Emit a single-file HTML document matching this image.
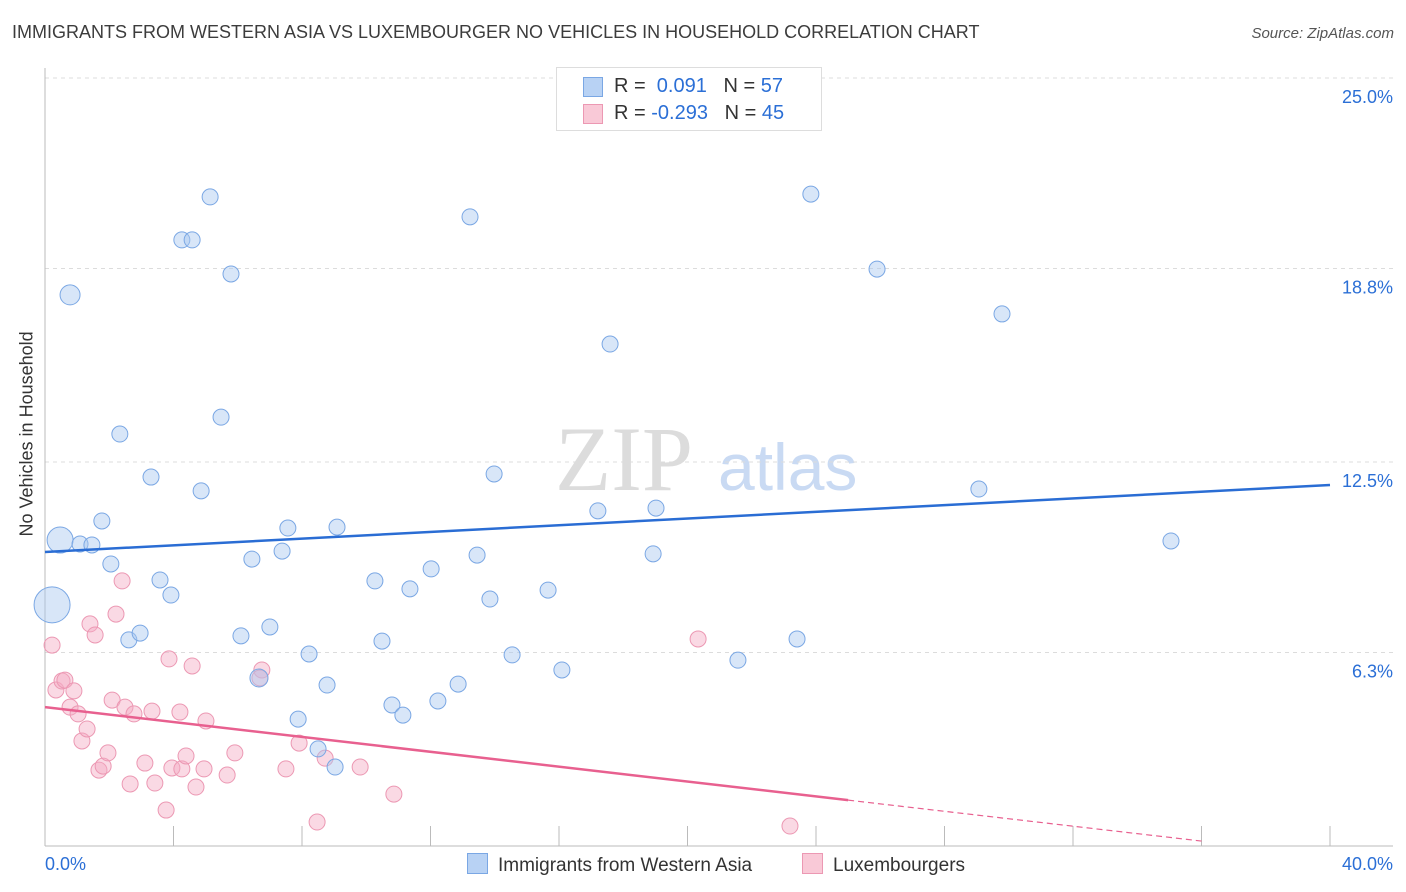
<!DOCTYPE html>
<html><head><meta charset="utf-8"><style>
body{margin:0;background:#fff;font-family:"Liberation Sans",sans-serif;}
#wrap{position:relative;width:1406px;height:892px;overflow:hidden;}
.t{position:absolute;white-space:nowrap;}
</style></head><body>
<div id="wrap">
<div class="t" style="left:12px;top:22px;font-size:18px;color:#3c3c3c;">IMMIGRANTS FROM WESTERN ASIA VS LUXEMBOURGER NO VEHICLES IN HOUSEHOLD CORRELATION CHART</div>
<div class="t" style="right:12px;top:25px;font-size:15px;color:#555;font-style:italic;">Source: ZipAtlas.com</div>
<div class="t" style="left:-53px;top:446px;font-size:18px;color:#333;transform:rotate(-90deg);transform-origin:center;width:160px;text-align:center;">No Vehicles in Household</div>
<svg id="chart" width="1406" height="892" style="position:absolute;left:0;top:0"></svg>
<div style="position:absolute;left:556px;top:67px;width:264px;height:62px;border:1px solid #ddd;background:#fff;font-size:20px;">
 <div style="position:absolute;left:26px;top:9px;width:18px;height:18px;background:#b8d2f4;border:1px solid #7aa7e4;"></div>
 <div class="t" style="left:57px;top:7px;color:#333;">R = <span style="color:#2b6fd6">&nbsp;0.091</span>&nbsp;&nbsp;&nbsp;N = <span style="color:#2b6fd6">57</span></div>
 <div style="position:absolute;left:26px;top:36px;width:18px;height:18px;background:#f9c9d7;border:1px solid #ec98b3;"></div>
 <div class="t" style="left:57px;top:34px;color:#333;">R = <span style="color:#2b6fd6">-0.293</span>&nbsp;&nbsp;&nbsp;N = <span style="color:#2b6fd6">45</span></div>
</div>
<div style="position:absolute;left:467px;top:853px;font-size:19px;color:#333;">
 <span style="display:inline-block;width:19px;height:19px;background:#b8d2f4;border:1px solid #7aa7e4;vertical-align:-3px;margin-right:10px;"></span>Immigrants from Western Asia</div>
<div style="position:absolute;left:802px;top:853px;font-size:19px;color:#333;">
 <span style="display:inline-block;width:19px;height:19px;background:#f9c9d7;border:1px solid #ec98b3;vertical-align:-3px;margin-right:10px;"></span>Luxembourgers</div>
</div>
<script>
const blueX=[0.78,0.47,0.22,1.09,1.46,1.77,2.05,2.33,2.61,2.96,3.30,3.58,3.92,4.26,4.58,4.86,5.14,5.48,5.79,6.10,6.44,6.66,7.00,7.38,7.56,7.88,8.22,8.50,8.78,9.03,9.09,10.27,10.49,10.80,11.14,11.36,12.02,12.23,12.86,13.23,13.45,13.85,13.98,14.54,15.66,16.09,17.21,17.59,18.93,19.02,21.57,23.41,23.84,25.90,29.07,29.79,35.05];
const blueY=[17.94,9.96,7.85,9.83,9.80,10.58,9.18,13.41,6.71,6.93,12.01,8.66,8.17,19.73,19.73,11.56,21.13,13.96,18.62,6.84,9.34,5.47,7.13,9.60,10.35,4.13,6.25,3.16,5.24,2.57,10.38,8.63,6.67,4.59,4.26,8.37,9.02,4.72,5.27,20.48,9.47,8.04,12.11,6.22,8.33,5.73,10.91,16.34,9.51,11.00,6.05,6.74,21.22,18.78,11.62,17.32,9.93];
const blueR=[10,13,18,8,8,8,8,8,8,8,8,8,8,8,8,8,8,8,8,8,8,9,8,8,8,8,8,8,8,8,8,8,8,8,8,8,8,8,8,8,8,8,8,8,8,8,8,8,8,8,8,8,8,8,8,8,8];
const pinkX=[0.22,0.34,0.53,0.62,0.78,0.90,1.03,1.15,1.31,1.40,1.56,1.68,1.81,1.96,2.09,2.21,2.40,2.49,2.65,2.77,3.11,3.33,3.42,3.77,3.86,3.95,4.20,4.26,4.39,4.58,4.70,4.95,5.01,5.67,5.91,6.75,6.69,7.50,7.91,8.47,8.72,9.81,10.86,20.33,23.19];
const pinkY=[6.54,5.08,5.37,5.40,4.52,5.05,4.30,3.42,3.81,7.23,6.87,2.47,2.60,3.03,4.75,7.55,8.63,4.52,2.02,4.30,2.70,4.39,2.05,1.17,6.09,2.54,4.36,2.51,2.93,5.86,1.92,2.51,4.07,2.31,3.03,5.73,5.47,2.51,3.35,0.78,2.86,2.57,1.69,6.74,0.65];
const yTicks=[25.0,18.8,12.5,6.3];
const yTickLabels=["25.0%","18.8%","12.5%","6.3%"];
const xTicks=[0,4,8,12,16,20,24,28,32,36,40];
const blueTrend=[9.57,11.75];
const pinkTrend=[4.52,-0.1211];
const pinkSolidEnd=25, pinkDashEnd=36;

const NS="http://www.w3.org/2000/svg";
const svg=document.getElementById('chart');
const sx=v=>45+v*32.125, sy=v=>846-v*30.72;
function mk(tag,attrs){const e=document.createElementNS(NS,tag);for(const k in attrs)e.setAttribute(k,attrs[k]);svg.appendChild(e);return e;}
// watermark
let wm=mk('text',{x:555,y:490,'font-size':92,'font-family':'Liberation Serif',fill:'#dcdcdc'});wm.textContent='ZIP';


let wm2=mk('text',{x:718,y:490,'font-size':66,'font-family':'Liberation Sans',fill:'#c9daf3'});wm2.textContent='atlas';


yTicks.forEach((v,i)=>{
 let g=mk('line',{x1:45,x2:1393,y1:sy(v),y2:sy(v),stroke:'#dcdcdc','stroke-dasharray':'4,4'});
 
 
 let t=mk('text',{x:1393,y:sy(v)+25,'text-anchor':'end','font-size':18,fill:'#2b6fd6','font-family':'Liberation Sans'});
 t.textContent=yTickLabels[i];
 
 
});
let ax=mk('line',{x1:45,x2:45,y1:68,y2:846,stroke:'#bbb'});


let bx=mk('line',{x1:45,x2:1393,y1:846,y2:846,stroke:'#bbb'});


xTicks.forEach(v=>{let l=mk('line',{x1:sx(v),x2:sx(v),y1:826,y2:846,stroke:'#bbb'});
 
 });
let xl0=mk('text',{x:45,y:870,'font-size':18,fill:'#2b6fd6','font-family':'Liberation Sans'});xl0.textContent='0.0%';


let xl1=mk('text',{x:1393,y:870,'text-anchor':'end','font-size':18,fill:'#2b6fd6','font-family':'Liberation Sans'});xl1.textContent='40.0%';


pinkX.forEach((x,i)=>{let c=mk('circle',{cx:sx(x),cy:sy(pinkY[i]),r:8,fill:'rgba(245,170,195,0.45)',stroke:'#ec98b3','stroke-width':1});
 
 });
blueX.forEach((x,i)=>{let c=mk('circle',{cx:sx(x),cy:sy(blueY[i]),r:blueR[i],fill:'rgba(168,200,240,0.45)',stroke:'#7aa7e4','stroke-width':1});
 
 });
let bl=mk('line',{x1:sx(0),y1:sy(blueTrend[0]),x2:sx(40),y2:sy(blueTrend[1]),stroke:'#2a6dd4','stroke-width':2.5});


let pl=mk('line',{x1:sx(0),y1:sy(pinkTrend[0]),x2:sx(pinkSolidEnd),y2:sy(pinkTrend[0]+pinkTrend[1]*pinkSolidEnd),stroke:'#e8608f','stroke-width':2.5});


let pd=mk('line',{x1:sx(pinkSolidEnd),y1:sy(pinkTrend[0]+pinkTrend[1]*pinkSolidEnd),x2:sx(pinkDashEnd),y2:sy(pinkTrend[0]+pinkTrend[1]*pinkDashEnd),stroke:'#e8608f','stroke-width':1.2,'stroke-dasharray':'6,4'});


</script>
</body></html>
